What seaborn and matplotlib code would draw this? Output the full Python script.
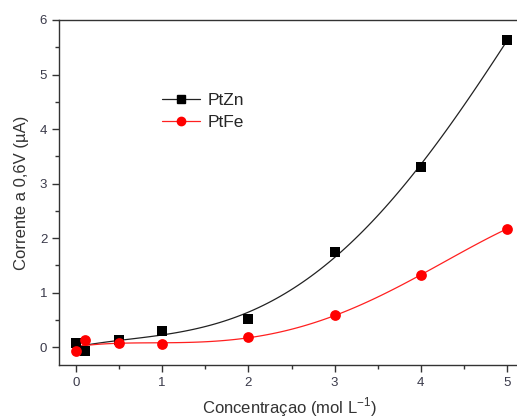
import numpy as np
import pandas as pd
import matplotlib
matplotlib.use("Agg")
import matplotlib.pyplot as plt
import seaborn as sns
from matplotlib.lines import Line2D
from matplotlib.ticker import MultipleLocator

conc = [0, 0.1, 0.5, 1, 2, 3, 4, 5]
ptzn = [0.08, -0.08, 0.13, 0.30, 0.52, 1.75, 3.30, 5.63]
ptfe = [-0.07, 0.12, 0.07, 0.05, 0.18, 0.58, 1.32, 2.17]
series_names = ["PtZn", "PtFe"]
x_ticks = [0, 1, 2, 3, 4, 5]
y_ticks = [0, 1, 2, 3, 4, 5, 6]

sns.set_style("ticks")
plt.rcParams["font.family"] = ["Liberation Sans", "DejaVu Sans"]

fig = plt.figure(figsize=(5.17, 4.19), dpi=100)
ax = fig.add_axes([59 / 517, 1 - 365 / 419, 461 / 517, (365 - 20) / 419])

df = pd.DataFrame({"x": conc, "PtZn": ptzn, "PtFe": ptfe})

# fitted curves
sns.regplot(data=df, x="x", y="PtZn", order=4, ci=None, scatter=False, truncate=True,
            line_kws=dict(color="#222222", lw=0.9), ax=ax)
sns.regplot(data=df, x="x", y="PtFe", order=4, ci=None, scatter=False, truncate=True,
            line_kws=dict(color="#ff2020", lw=0.9), ax=ax)

# points
sns.scatterplot(data=df, x="x", y="PtZn", marker="s", s=55, color="black",
                edgecolor="black", linewidth=0, ax=ax, zorder=3)
sns.scatterplot(data=df, x="x", y="PtFe", marker="o", s=60, color="#ff0000",
                edgecolor="#ff0000", linewidth=0, ax=ax, zorder=4)

ax.set_xlim(-0.197, 5.15)
ax.set_ylim(-0.33, 6)
ax.set_xticks(x_ticks)
ax.set_yticks(y_ticks)
ax.xaxis.set_minor_locator(MultipleLocator(0.5))
ax.yaxis.set_minor_locator(MultipleLocator(0.5))
ax.tick_params(which="major", direction="out", length=5, width=1, colors="#333333",
               labelsize=9.5, labelcolor="#3a3a4a")
ax.tick_params(which="minor", direction="out", length=3, width=1, colors="#333333")
for sp in ax.spines.values():
    sp.set_color("#333333")
    sp.set_linewidth(1)

ax.set_xlabel(r"Concentraçao (mol L$^{\mathregular{-1}}$)", fontsize=12, color="#333333", labelpad=5)
ax.set_ylabel("Corrente a 0,6V (µA)", fontsize=12, color="#333333", labelpad=8)

handles = [
    Line2D([], [], color="#222222", lw=0.9, marker="s", markersize=6, markerfacecolor="black",
           markeredgecolor="black"),
    Line2D([], [], color="#ff2020", lw=0.9, marker="o", markersize=6, markerfacecolor="#ff0000",
           markeredgecolor="#ff0000"),
]
ax.legend(handles, series_names, loc="upper left", bbox_to_anchor=(0.19, 0.835), frameon=False,
          fontsize=12.5, handlelength=2.2, handletextpad=0.4, labelspacing=0.4)

fig.savefig("out.png", dpi=100)
